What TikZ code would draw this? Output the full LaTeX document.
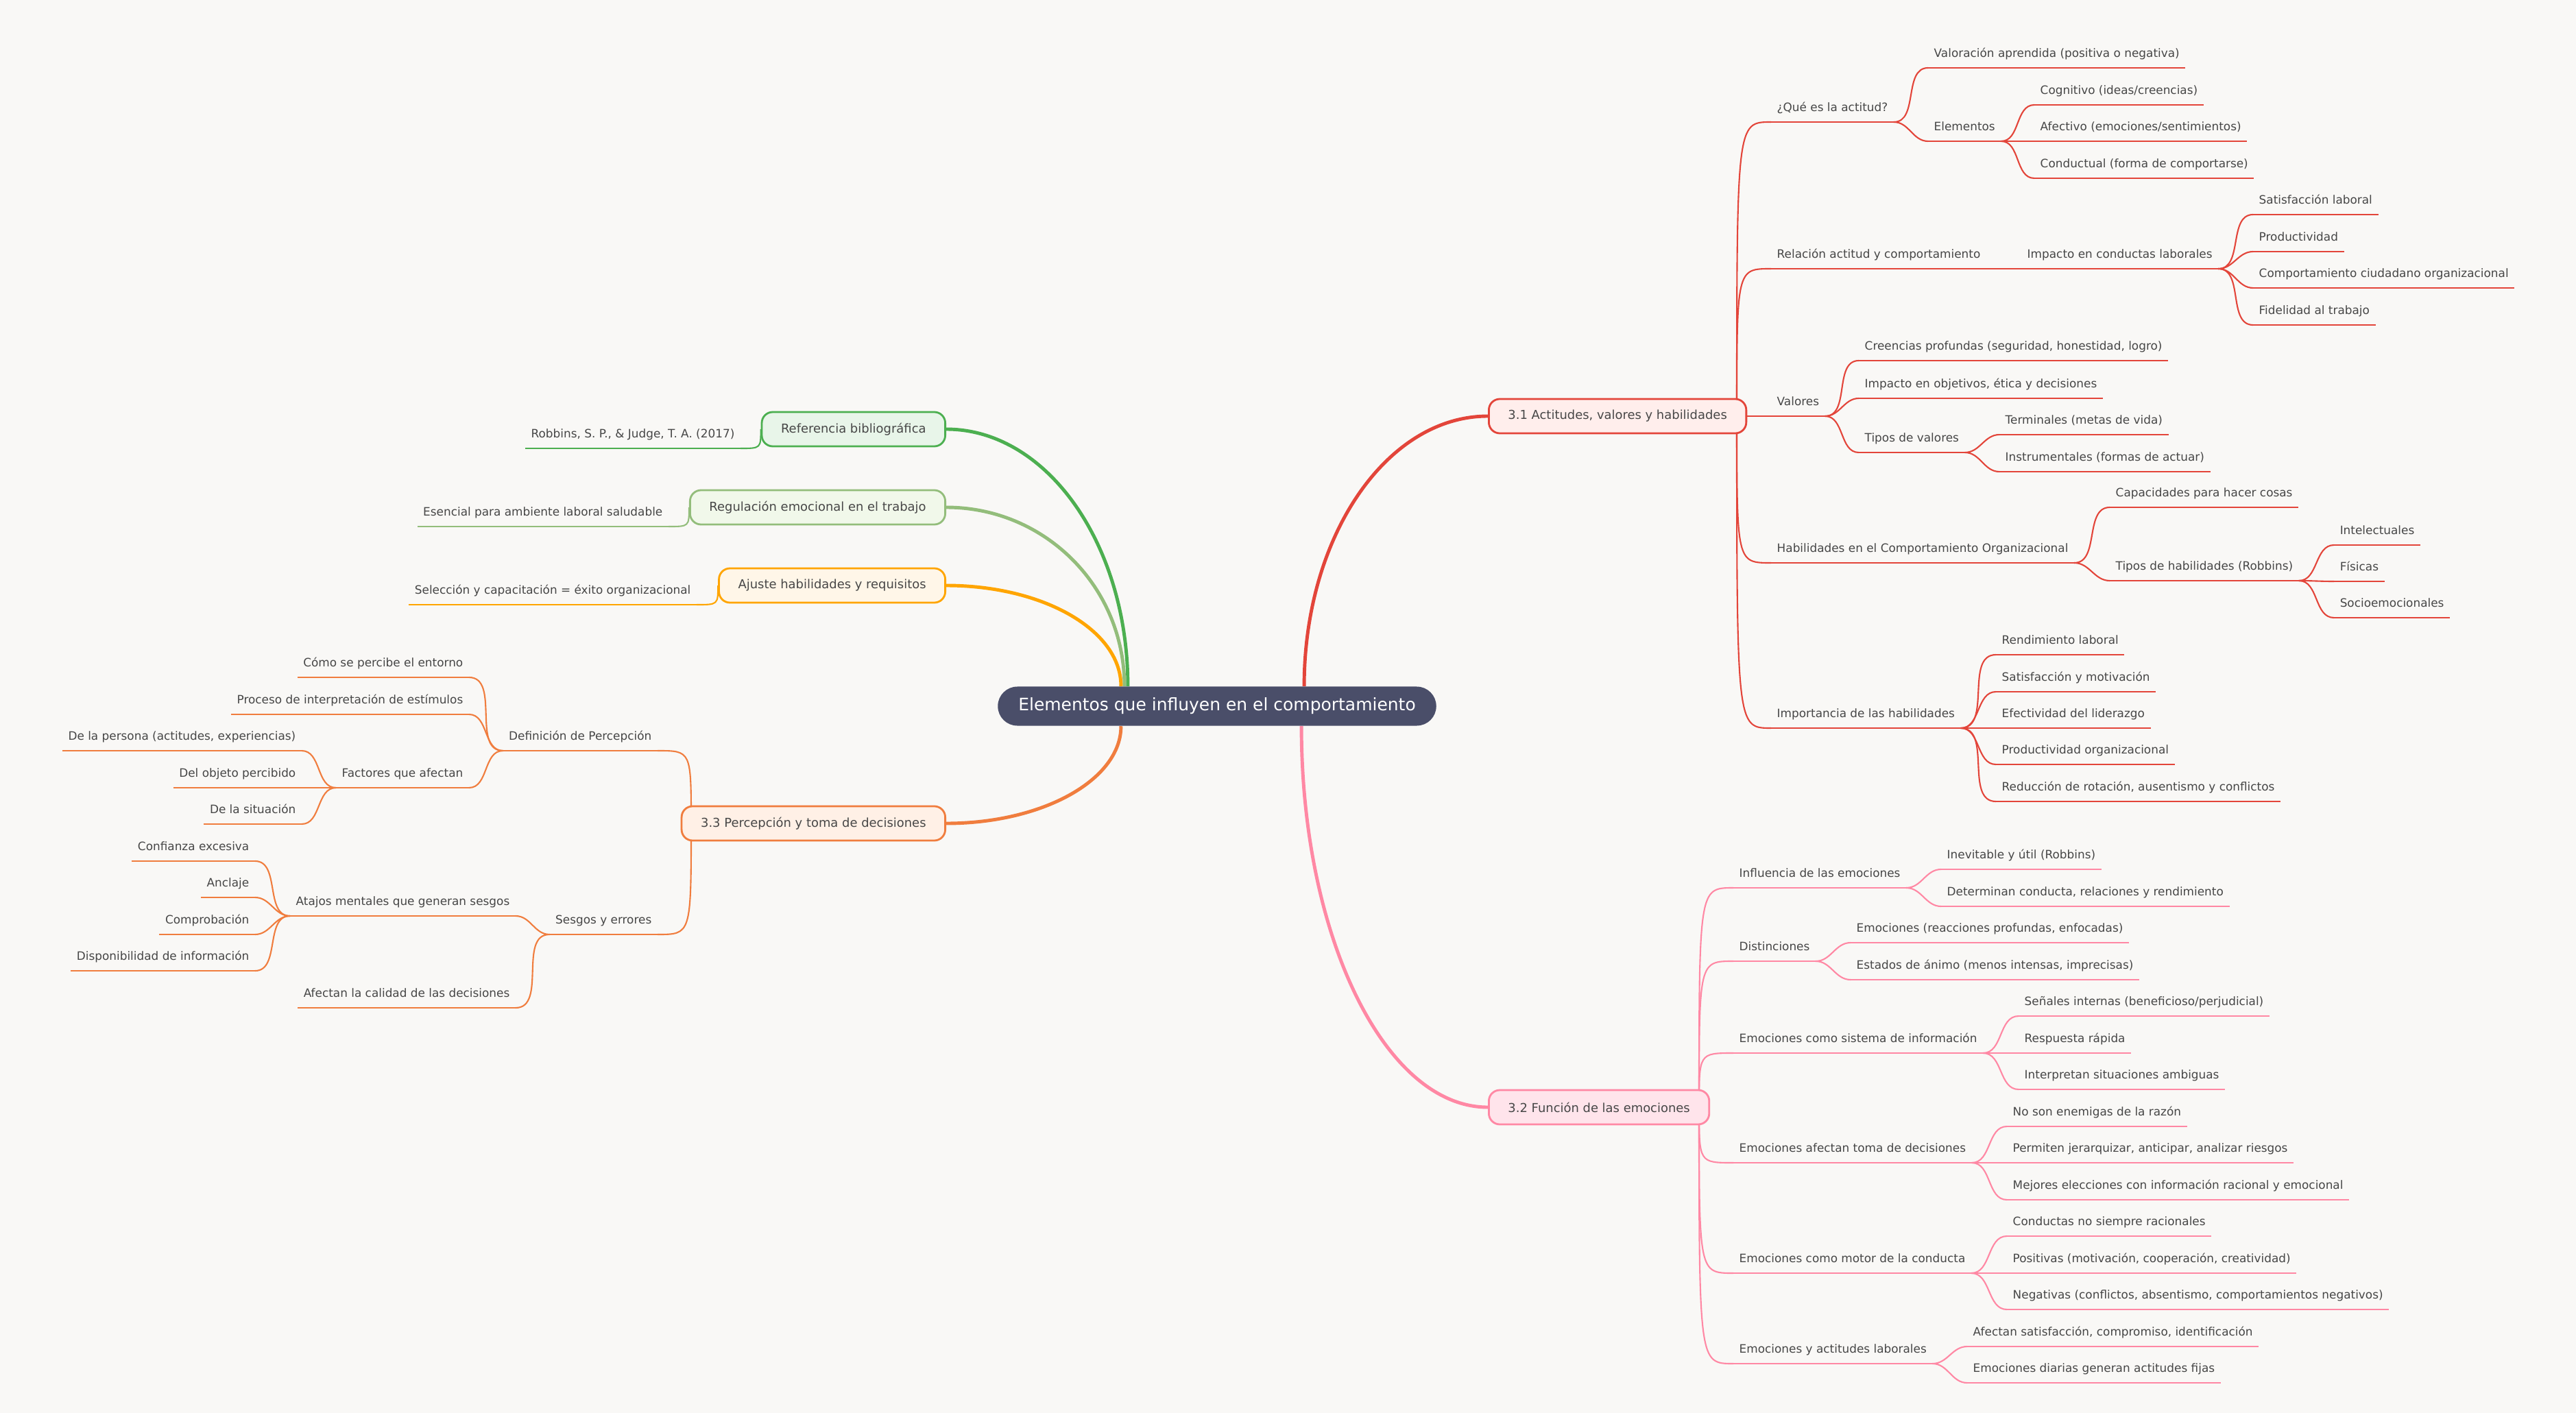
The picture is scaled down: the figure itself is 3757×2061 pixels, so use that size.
\documentclass[tikz,border=0pt]{standalone}
\usepackage{fontspec}
\setmainfont{DejaVu Sans}
\usetikzlibrary{backgrounds}

\definecolor{bgcol}{HTML}{F9F8F6}
\definecolor{txtcol}{HTML}{474747}
\definecolor{rootcol}{HTML}{4A4E69}
\definecolor{redcol}{HTML}{E3453A}
\definecolor{redfill}{HTML}{FFEEEC}
\definecolor{pinkcol}{HTML}{FF88A4}
\definecolor{pinkfill}{HTML}{FFE4EB}
\definecolor{orgcol}{HTML}{F07D3E}
\definecolor{orgfill}{HTML}{FFF0E6}
\definecolor{ambcol}{HTML}{FFA500}
\definecolor{ambfill}{HTML}{FFF6E8}
\definecolor{sagecol}{HTML}{93BD7B}
\definecolor{sagefill}{HTML}{F1F8EA}
\definecolor{grncol}{HTML}{4CAF50}
\definecolor{grnfill}{HTML}{E8F5E9}

\begin{document}
\begin{tikzpicture}[
    x=0.01cm, y=-0.01cm,
    root/.style={fill=rootcol, text=white, rounded corners=0.285cm, minimum height=0.57cm,
        inner xsep=0.3cm, font=\fontsize{7.1}{8}\selectfont},
    topic/.style={line width=0.8pt, rounded corners=0.16cm, minimum height=0.5cm,
        inner xsep=0.28cm, text=txtcol, font=\fontsize{5.1}{6}\selectfont},
    leaf/.style={inner xsep=0.08cm, inner ysep=0.15cm, text depth=0pt, text=txtcol,
        font=\fontsize{4.8}{6}\selectfont,
        append after command={(\tikzlastnode.south west) edge[draw=#1, line width=0.6pt] (\tikzlastnode.south east)}},
    rleaf/.style={leaf=redcol, anchor=south west},
    pleaf/.style={leaf=pinkcol, anchor=south west},
    oleaf/.style={leaf=orgcol, anchor=south east},
    gleaf/.style={leaf=grncol, anchor=south east},
    sleaf/.style={leaf=sagecol, anchor=south east},
    aleaf/.style={leaf=ambcol, anchor=south east},
    main/.style={line width=1.4pt},
    rline/.style={draw=redcol, line width=0.6pt},
    pline/.style={draw=pinkcol, line width=0.6pt},
    oline/.style={draw=orgcol, line width=0.6pt}
]
    \useasboundingbox (0,0) rectangle (3757,2061);

    % centre and main topics
    \node[root] (root) at (1775,1030) {Elementos que influyen en el comportamiento};
    \node[topic, draw=redcol, fill=redfill, anchor=west] (act) at (2170,607) {3.1 Actitudes, valores y habilidades};
    \node[topic, draw=pinkcol, fill=pinkfill, anchor=west] (emo) at (2170,1615) {3.2 Función de las emociones};
    \node[topic, draw=orgcol, fill=orgfill, anchor=east] (per) at (1380,1201) {3.3 Percepción y toma de decisiones};
    \node[topic, draw=grncol, fill=grnfill, anchor=east] (ref) at (1380,626) {Referencia bibliográfica};
    \node[topic, draw=sagecol, fill=sagefill, anchor=east] (reg) at (1380,740) {Regulación emocional en el trabajo};
    \node[topic, draw=ambcol, fill=ambfill, anchor=east] (aju) at (1380,854) {Ajuste habilidades y requisitos};
    \coordinate (actj) at (2533,607);
    \coordinate (emoj) at (2478,1615);
    \coordinate (perj) at (1008,1201);

    % 3.1
    \node[rleaf] (qes) at (2583,178) {¿Qué es la actitud?};
    \node[rleaf] (valo) at (2812,99) {Valoración aprendida (positiva o negativa)};
    \node[rleaf] (elem) at (2812,206) {Elementos};
    \node[rleaf] (cogn) at (2967,153) {Cognitivo (ideas/creencias)};
    \node[rleaf] (afec) at (2967,206) {Afectivo (emociones/sentimientos)};
    \node[rleaf] (cond) at (2967,260) {Conductual (forma de comportarse)};
    \node[rleaf] (rela) at (2583,392) {Relación actitud y comportamiento};
    \node[rleaf] (impc) at (2948,392) {Impacto en conductas laborales};
    \node[rleaf] (sati) at (3286,313) {Satisfacción laboral};
    \node[rleaf] (prod) at (3286,367) {Productividad};
    \node[rleaf] (ciud) at (3286,420) {Comportamiento ciudadano organizacional};
    \node[rleaf] (fide) at (3286,474) {Fidelidad al trabajo};
    \node[rleaf] (valr) at (2583,607) {Valores};
    \node[rleaf] (cree) at (2711,526) {Creencias profundas (seguridad, honestidad, logro)};
    \node[rleaf] (obje) at (2711,581) {Impacto en objetivos, ética y decisiones};
    \node[rleaf] (tval) at (2711,660) {Tipos de valores};
    \node[rleaf] (term) at (2916,634) {Terminales (metas de vida)};
    \node[rleaf] (inst) at (2916,688) {Instrumentales (formas de actuar)};
    \node[rleaf] (habi) at (2583,821) {Habilidades en el Comportamiento Organizacional};
    \node[rleaf] (capa) at (3077,740) {Capacidades para hacer cosas};
    \node[rleaf] (thab) at (3077,847) {Tipos de habilidades (Robbins)};
    \node[rleaf] (inte) at (3404,795) {Intelectuales};
    \node[rleaf] (fisi) at (3404,848) {Físicas};
    \node[rleaf] (soci) at (3404,901) {Socioemocionales};
    \node[rleaf] (impo) at (2583,1062) {Importancia de las habilidades};
    \node[rleaf] (rend) at (2911,955) {Rendimiento laboral};
    \node[rleaf] (moti) at (2911,1009) {Satisfacción y motivación};
    \node[rleaf] (lide) at (2911,1062) {Efectividad del liderazgo};
    \node[rleaf] (porg) at (2911,1115) {Productividad organizacional};
    \node[rleaf] (redu) at (2911,1169) {Reducción de rotación, ausentismo y conflictos};

    % 3.2
    \node[pleaf] (infl) at (2528,1295) {Influencia de las emociones};
    \node[pleaf] (inev) at (2831,1268) {Inevitable y útil (Robbins)};
    \node[pleaf] (dete) at (2831,1322) {Determinan conducta, relaciones y rendimiento};
    \node[pleaf] (dist) at (2528,1402) {Distinciones};
    \node[pleaf] (emre) at (2699,1375) {Emociones (reacciones profundas, enfocadas)};
    \node[pleaf] (esta) at (2699,1429) {Estados de ánimo (menos intensas, imprecisas)};
    \node[pleaf] (sist) at (2528,1536) {Emociones como sistema de información};
    \node[pleaf] (sena) at (2944,1482) {Señales internas (beneficioso/perjudicial)};
    \node[pleaf] (resp) at (2944,1536) {Respuesta rápida};
    \node[pleaf] (ambi) at (2944,1589) {Interpretan situaciones ambiguas};
    \node[pleaf] (deci) at (2528,1696) {Emociones afectan toma de decisiones};
    \node[pleaf] (razo) at (2927,1643) {No son enemigas de la razón};
    \node[pleaf] (jera) at (2927,1696) {Permiten jerarquizar, anticipar, analizar riesgos};
    \node[pleaf] (mejo) at (2927,1750) {Mejores elecciones con información racional y emocional};
    \node[pleaf] (moto) at (2528,1857) {Emociones como motor de la conducta};
    \node[pleaf] (cnsr) at (2927,1803) {Conductas no siempre racionales};
    \node[pleaf] (posi) at (2927,1857) {Positivas (motivación, cooperación, creatividad)};
    \node[pleaf] (nega) at (2927,1910) {Negativas (conflictos, absentismo, comportamientos negativos)};
    \node[pleaf] (acti) at (2528,1989) {Emociones y actitudes laborales};
    \node[pleaf] (sacs) at (2869,1964) {Afectan satisfacción, compromiso, identificación};
    \node[pleaf] (diar) at (2869,2017) {Emociones diarias generan actitudes fijas};

    % 3.3
    \node[oleaf] (defi) at (959,1095) {Definición de Percepción};
    \node[oleaf] (como) at (684,988) {Cómo se percibe el entorno};
    \node[oleaf] (proc) at (684,1042) {Proceso de interpretación de estímulos};
    \node[oleaf] (fact) at (684,1149) {Factores que afectan};
    \node[oleaf] (pers) at (440,1095) {De la persona (actitudes, experiencias)};
    \node[oleaf] (obpe) at (440,1149) {Del objeto percibido};
    \node[oleaf] (situ) at (440,1202) {De la situación};
    \node[oleaf] (sesg) at (959,1363) {Sesgos y errores};
    \node[oleaf] (ataj) at (752,1336) {Atajos mentales que generan sesgos};
    \node[oleaf] (conf) at (372,1256) {Confianza excesiva};
    \node[oleaf] (ancl) at (372,1309) {Anclaje};
    \node[oleaf] (cmpr) at (372,1363) {Comprobación};
    \node[oleaf] (disp) at (372,1416) {Disponibilidad de información};
    \node[oleaf] (cali) at (752,1470) {Afectan la calidad de las decisiones};

    % small topics on the left
    \node[gleaf] (robb) at (1080,654) {Robbins, S. P., \& Judge, T. A. (2017)};
    \node[sleaf] (esen) at (975,768) {Esencial para ambiente laboral saludable};
    \node[aleaf] (sele) at (1016,882) {Selección y capacitación = éxito organizacional};

    \begin{pgfonlayer}{background}
        \fill[bgcol] (0,0) rectangle (3757,2061);
        % main branches
        \draw[main, draw=redcol] ([xshift=1.27cm]root.north) .. controls +(0,-218) and +(-148,0) .. (act.west);
        \draw[main, draw=pinkcol] ([xshift=1.23cm]root.south) .. controls +(0,307) and +(-150,0) .. (emo.west);
        \draw[main, draw=grncol] (ref.east) .. controls +(146,0) and +(0,-208) .. ([xshift=-1.30cm]root.north);
        \draw[main, draw=sagecol] (reg.east) .. controls +(144,0) and +(0,-145) .. ([xshift=-1.35cm]root.north);
        \draw[main, draw=ambcol] (aju.east) .. controls +(141,0) and +(0,-82) .. ([xshift=-1.40cm]root.north);
        \draw[main, draw=orgcol] (per.east) .. controls +(141,0) and +(0,78) .. ([xshift=-1.40cm]root.south);

        % 3.1
        \draw[rline] (actj) .. controls (actj |- qes.south) .. (qes.south west);
        \draw[rline] (actj) .. controls (actj |- rela.south) .. (rela.south west);
        \draw[rline] (act.east) -- (valr.south west);
        \draw[rline] (actj) .. controls (actj |- habi.south) .. (habi.south west);
        \draw[rline] (actj) .. controls (actj |- impo.south) .. (impo.south west);
        \draw[rline] (qes.south east) to[out=0,in=180] (valo.south west);
        \draw[rline] (qes.south east) to[out=0,in=180] (elem.south west);
        \draw[rline] (elem.south east) to[out=0,in=180] (cogn.south west);
        \draw[rline] (elem.south east) to[out=0,in=180] (afec.south west);
        \draw[rline] (elem.south east) to[out=0,in=180] (cond.south west);
        \draw[rline] (rela.south east) -- (impc.south west);
        \draw[rline] (impc.south east) to[out=0,in=180] (sati.south west);
        \draw[rline] (impc.south east) to[out=0,in=180] (prod.south west);
        \draw[rline] (impc.south east) to[out=0,in=180] (ciud.south west);
        \draw[rline] (impc.south east) to[out=0,in=180] (fide.south west);
        \draw[rline] (valr.south east) to[out=0,in=180] (cree.south west);
        \draw[rline] (valr.south east) to[out=0,in=180] (obje.south west);
        \draw[rline] (valr.south east) to[out=0,in=180] (tval.south west);
        \draw[rline] (tval.south east) to[out=0,in=180] (term.south west);
        \draw[rline] (tval.south east) to[out=0,in=180] (inst.south west);
        \draw[rline] (habi.south east) to[out=0,in=180] (capa.south west);
        \draw[rline] (habi.south east) to[out=0,in=180] (thab.south west);
        \draw[rline] (thab.south east) to[out=0,in=180] (inte.south west);
        \draw[rline] (thab.south east) to[out=0,in=180] (fisi.south west);
        \draw[rline] (thab.south east) to[out=0,in=180] (soci.south west);
        \draw[rline] (impo.south east) to[out=0,in=180] (rend.south west);
        \draw[rline] (impo.south east) to[out=0,in=180] (moti.south west);
        \draw[rline] (impo.south east) to[out=0,in=180] (lide.south west);
        \draw[rline] (impo.south east) to[out=0,in=180] (porg.south west);
        \draw[rline] (impo.south east) to[out=0,in=180] (redu.south west);

        % 3.2
        \draw[pline] (emoj) .. controls (emoj |- infl.south) .. (infl.south west);
        \draw[pline] (emoj) .. controls (emoj |- dist.south) .. (dist.south west);
        \draw[pline] (emoj) .. controls (emoj |- sist.south) .. (sist.south west);
        \draw[pline] (emoj) .. controls (emoj |- deci.south) .. (deci.south west);
        \draw[pline] (emoj) .. controls (emoj |- moto.south) .. (moto.south west);
        \draw[pline] (emoj) .. controls (emoj |- acti.south) .. (acti.south west);
        \draw[pline] (infl.south east) to[out=0,in=180] (inev.south west);
        \draw[pline] (infl.south east) to[out=0,in=180] (dete.south west);
        \draw[pline] (dist.south east) to[out=0,in=180] (emre.south west);
        \draw[pline] (dist.south east) to[out=0,in=180] (esta.south west);
        \draw[pline] (sist.south east) to[out=0,in=180] (sena.south west);
        \draw[pline] (sist.south east) to[out=0,in=180] (resp.south west);
        \draw[pline] (sist.south east) to[out=0,in=180] (ambi.south west);
        \draw[pline] (deci.south east) to[out=0,in=180] (razo.south west);
        \draw[pline] (deci.south east) to[out=0,in=180] (jera.south west);
        \draw[pline] (deci.south east) to[out=0,in=180] (mejo.south west);
        \draw[pline] (moto.south east) to[out=0,in=180] (cnsr.south west);
        \draw[pline] (moto.south east) to[out=0,in=180] (posi.south west);
        \draw[pline] (moto.south east) to[out=0,in=180] (nega.south west);
        \draw[pline] (acti.south east) to[out=0,in=180] (sacs.south west);
        \draw[pline] (acti.south east) to[out=0,in=180] (diar.south west);

        % 3.3
        \draw[oline] (perj) .. controls (perj |- defi.south) .. (defi.south east);
        \draw[oline] (perj) .. controls (perj |- sesg.south) .. (sesg.south east);
        \draw[oline] (defi.south west) to[out=180,in=0] (como.south east);
        \draw[oline] (defi.south west) to[out=180,in=0] (proc.south east);
        \draw[oline] (defi.south west) to[out=180,in=0] (fact.south east);
        \draw[oline] (fact.south west) to[out=180,in=0] (pers.south east);
        \draw[oline] (fact.south west) to[out=180,in=0] (obpe.south east);
        \draw[oline] (fact.south west) to[out=180,in=0] (situ.south east);
        \draw[oline] (sesg.south west) to[out=180,in=0] (ataj.south east);
        \draw[oline] (sesg.south west) to[out=180,in=0] (cali.south east);
        \draw[oline] (ataj.south west) to[out=180,in=0] (conf.south east);
        \draw[oline] (ataj.south west) to[out=180,in=0] (ancl.south east);
        \draw[oline] (ataj.south west) to[out=180,in=0] (cmpr.south east);
        \draw[oline] (ataj.south west) to[out=180,in=0] (disp.south east);

        % left topics
        \draw[draw=grncol, line width=0.6pt] (ref.west) .. controls (ref.west |- robb.south) .. (robb.south east);
        \draw[draw=sagecol, line width=0.6pt] (reg.west) .. controls (reg.west |- esen.south) .. (esen.south east);
        \draw[draw=ambcol, line width=0.6pt] (aju.west) .. controls (aju.west |- sele.south) .. (sele.south east);
    \end{pgfonlayer}
\end{tikzpicture}
\end{document}
